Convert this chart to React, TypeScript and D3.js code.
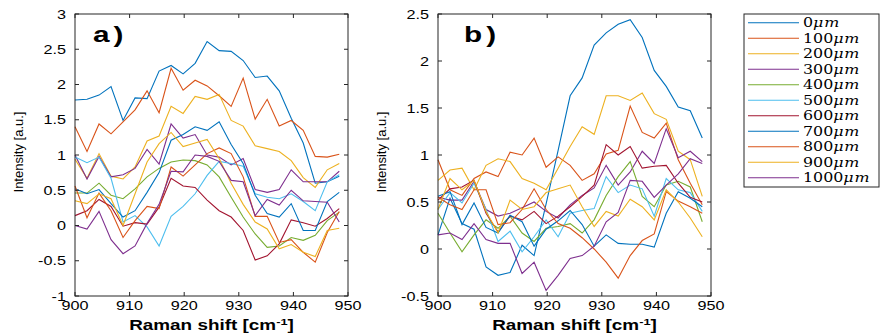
import React, { FC } from 'react';
import * as d3 from 'd3';

// Raman shift of each sample point [cm^-1]
const SHIFT = [900, 902.2, 904.4, 906.6, 908.8, 911, 913.2, 915.4, 917.6, 919.8, 922, 924.2,
  926.4, 928.6, 930.8, 933, 935.2, 937.4, 939.6, 941.8, 944, 946.2, 948.4];

const DEPTHS = ['0', '100', '200', '300', '400', '500', '600', '700', '800', '900', '1000'];
const COLORS = ['#0072BD', '#D95319', '#EDB120', '#7E2F8E', '#77AC30', '#4DBEEE', '#A2142F'];

// panel a)
const A_0 = [1.78, 1.79, 1.85, 1.97, 1.49, 1.81, 1.80, 2.19, 2.27, 2.15, 2.30, 2.61, 2.48, 2.47, 2.34, 2.10, 2.12, 1.91, 1.52, 1.17, 0.60, 0.62, 0.70];
const A_100 = [1.40, 1.05, 1.44, 1.30, 1.47, 1.64, 1.91, 1.60, 2.23, 1.92, 2.06, 1.98, 1.84, 1.69, 2.09, 1.51, 1.79, 1.41, 1.49, 1.35, 0.98, 0.97, 1.01];
const A_200 = [0.94, 0.67, 1.02, 0.70, 0.66, 0.83, 1.20, 1.27, 1.69, 1.59, 1.83, 1.79, 1.86, 1.49, 1.41, 1.13, 1.09, 1.05, 0.92, 0.68, 0.54, 0.79, 0.88];
const A_300 = [1.00, 0.66, 0.98, 0.69, 0.72, 0.81, 1.08, 0.87, 1.44, 1.24, 1.29, 1.00, 0.97, 0.86, 0.95, 0.51, 0.47, 0.51, 0.79, 0.62, 0.62, 0.62, 0.77];
const A_400 = [0.46, 0.46, 0.60, 0.43, 0.38, 0.52, 0.69, 0.81, 0.90, 0.93, 0.92, 0.86, 0.69, 0.40, 0.12, -0.12, -0.31, -0.29, -0.17, -0.21, -0.14, 0.07, 0.19];
const A_500 = [0.97, 0.89, 0.97, 0.67, 0.05, 0.14, -0.02, -0.29, 0.13, 0.27, 0.45, 0.71, 0.91, 0.88, 0.84, 0.45, 0.40, 0.38, 0.45, 0.34, 0.21, 0.62, 0.72];
const A_600 = [0.14, 0.21, 0.37, 0.27, -0.01, 0.04, 0.02, 0.26, 0.67, 0.56, 0.54, 0.36, 0.21, 0.12, -0.07, -0.49, -0.43, -0.26, 0.08, 0.04, -0.01, 0.10, 0.24];
const A_700 = [0.52, 0.45, 0.51, 0.31, 0.12, 0.21, 0.47, 0.75, 1.21, 1.29, 1.40, 1.35, 1.47, 1.15, 0.88, 0.43, 0.17, 0.12, 0.31, -0.07, -0.07, 0.34, 0.47];
const A_800 = [0.56, 0.11, 0.46, 0.21, -0.17, 0.07, 0.27, 0.24, 0.83, 0.70, 0.86, 1.02, 1.10, 1.02, 0.69, 0.13, 0.13, -0.24, -0.20, -0.38, -0.52, -0.10, 0.20];
const A_900 = [0.35, 0.31, 0.45, 0.38, 0.00, 0.45, 0.90, 1.16, 1.32, 1.12, 1.17, 1.22, 0.95, 0.60, 0.30, 0.05, -0.05, -0.33, -0.27, -0.38, -0.44, -0.07, -0.04];
const A_1000 = [0.00, -0.05, 0.20, -0.20, -0.40, -0.29, 0.03, 0.30, 0.77, 0.76, 1.00, 0.98, 0.91, 0.64, 0.62, 0.14, 0.37, 0.29, 0.50, 0.35, 0.34, 0.33, 0.05];

// panel b)
const B_0 = [0.15, 0.54, 0.27, 0.21, -0.19, -0.28, -0.25, 0.04, -0.07, 0.48, 1.05, 1.63, 1.82, 2.17, 2.30, 2.39, 2.44, 2.25, 1.90, 1.73, 1.51, 1.47, 1.18];
const B_100 = [0.95, 0.63, 0.57, 0.75, 0.82, 0.77, 1.03, 1.00, 1.18, 0.87, 0.98, 0.89, 0.73, 0.80, 1.01, 1.05, 1.52, 1.24, 1.18, 1.34, 0.95, 0.70, 0.47];
const B_200 = [0.73, 0.84, 0.86, 0.63, 0.89, 0.96, 0.93, 0.75, 0.70, 0.63, 0.86, 1.09, 1.30, 1.22, 1.63, 1.63, 1.58, 1.66, 1.44, 1.38, 1.04, 0.95, 0.56];
const B_300 = [0.55, 0.52, 0.52, 0.72, 0.42, 0.35, 0.38, 0.44, 0.50, 0.40, 0.33, 0.47, 0.57, 0.65, 0.89, 0.68, 0.82, 1.04, 0.91, 1.28, 0.97, 1.04, 0.93];
const B_400 = [0.38, 0.17, -0.03, 0.15, 0.31, 0.22, 0.35, 0.17, 0.08, 0.22, 0.24, 0.27, 0.17, 0.31, 0.57, 0.77, 0.93, 0.56, 0.45, 0.68, 0.72, 0.66, 0.29];
const B_500 = [0.42, 0.60, 0.49, 0.70, 0.42, 0.08, 0.19, -0.03, 0.13, 0.31, 0.13, 0.38, 0.41, 0.43, 0.77, 0.60, 0.68, 0.64, 0.35, 0.75, 0.63, 0.60, 0.40];
const B_600 = [0.52, 0.64, 0.66, 0.73, 0.38, 0.18, 0.35, 0.31, 0.40, 0.27, 0.35, 0.45, 0.56, 0.68, 1.11, 1.00, 1.09, 0.86, 0.88, 0.89, 0.70, 0.55, 0.50];
const B_700 = [0.56, 0.61, 0.26, 0.49, 0.23, 0.17, 0.36, 0.29, 0.03, 0.21, 0.30, 0.41, 0.26, 0.03, 0.15, 0.06, 0.05, 0.05, 0.02, 0.38, 0.61, 0.54, 0.45];
const B_800 = [0.55, 0.47, 0.42, 0.63, 0.63, 0.26, 0.28, 0.42, 0.64, 0.42, 0.27, 0.22, 0.12, 0.00, -0.14, -0.31, -0.07, 0.09, 0.16, 0.61, 0.51, 0.45, 0.38];
const B_900 = [0.42, 0.75, 0.63, 0.73, 0.40, 0.17, 0.52, 0.42, 0.45, 0.60, 0.64, 0.68, 0.45, 0.24, 0.40, 0.35, 0.53, 0.45, 0.31, 0.63, 0.50, 0.33, 0.13];
const B_1000 = [0.15, 0.17, 0.10, 0.27, 0.10, 0.06, 0.06, -0.26, -0.14, -0.44, -0.28, -0.10, -0.07, 0.03, 0.29, 0.39, 0.73, 0.72, 0.55, 0.68, 0.80, 0.96, 0.91];

const PANEL_A = [A_0, A_100, A_200, A_300, A_400, A_500, A_600, A_700, A_800, A_900, A_1000];
const PANEL_B = [B_0, B_100, B_200, B_300, B_400, B_500, B_600, B_700, B_800, B_900, B_1000];

const X_TICKS = [900, 910, 920, 930, 940, 950];
const Y_TICKS_A = [-1, -0.5, 0, 0.5, 1, 1.5, 2, 2.5, 3];
const Y_TICKS_B = [-0.5, 0, 0.5, 1, 1.5, 2, 2.5];

const SANS = "'Liberation Sans', Arial, Helvetica, sans-serif";
const SERIF = "'DejaVu Serif', 'Liberation Serif', serif";
const AXIS = '#262626';
const STRETCH = 1.35; // the reference text is drawn wide
const TOP = 14;
const BOTTOM = 296;

interface PanelProps {
  left: number;
  width: number;
  series: number[][];
  yDomain: [number, number];
  yTicks: number[];
  tag: string;
}

interface WideProps {
  x: number;
  y: number;
  anchor: string;
  size: number;
  bold?: boolean;
  spacing?: number;
  children: React.ReactNode;
}

const Wide: FC<WideProps> = ({ x, y, anchor, size, bold, spacing, children }) => (
  <text transform={`translate(${x},${y}) scale(${STRETCH},1)`} textAnchor={anchor} fontFamily={SANS}
    fontSize={size} fontWeight={bold ? 'bold' : 'normal'} letterSpacing={spacing || 0} fill="#000">{children}</text>
);

const Panel: FC<PanelProps> = ({ left, width, series, yDomain, yTicks, tag }) => {
  const x = d3.scaleLinear().domain([900, 950]).range([left, left + width]);
  const y = d3.scaleLinear().domain(yDomain).range([BOTTOM, TOP]);
  const line = d3.line<number>().x((_, i) => x(SHIFT[i])).y(d => y(d));
  const right = left + width;
  const tick = 4;

  return (
    <g>
      {series.map((s, i) => (
        <path key={DEPTHS[i]} d={line(s) || undefined} fill="none" stroke={COLORS[i % COLORS.length]} strokeWidth={1.1} />
      ))}
      <rect x={left} y={TOP} width={width} height={BOTTOM - TOP} fill="none" stroke={AXIS} strokeWidth={1} />
      {X_TICKS.map(t => (
        <g key={`x${t}`}>
          <line x1={x(t)} x2={x(t)} y1={BOTTOM} y2={BOTTOM - tick} stroke={AXIS} />
          <line x1={x(t)} x2={x(t)} y1={TOP} y2={TOP + tick} stroke={AXIS} />
          <Wide x={x(t)} y={310} anchor="middle" size={12}>{t}</Wide>
        </g>
      ))}
      {yTicks.map(t => (
        <g key={`y${t}`}>
          <line x1={left} x2={left + tick} y1={y(t)} y2={y(t)} stroke={AXIS} />
          <line x1={right} x2={right - tick} y1={y(t)} y2={y(t)} stroke={AXIS} />
          <Wide x={left - 9} y={y(t) + 4.5} anchor="end" size={12}>{t}</Wide>
        </g>
      ))}
      <Wide x={left + (tag === 'a)' ? 18 : 26)} y={41.5} anchor="start" size={22} bold spacing={3}>{tag}</Wide>
      <Wide x={left + width / 2} y={330} anchor="middle" size={14} bold>
        Raman shift [cm<tspan dy={-5} fontSize={9.5}>-1</tspan><tspan dy={5}>]</tspan>
      </Wide>
      <text transform={`translate(${left - 52},${(TOP + BOTTOM) / 2 - 3}) rotate(-90)`} textAnchor="middle"
        fontFamily={SANS} fontSize={13} fill="#000">Intensity [a.u.]</text>
    </g>
  );
};

const Legend: FC = () => {
  const lx = 744;
  const ly = 14;
  const step = 15.5;
  return (
    <g>
      <rect x={lx} y={ly} width={135} height={173} fill="#fff" stroke={AXIS} strokeWidth={1} />
      {DEPTHS.map((d, i) => {
        const cy = ly + 8.7 + i * step;
        return (
          <g key={d}>
            <line x1={lx + 4} x2={lx + 55} y1={cy} y2={cy} stroke={COLORS[i % COLORS.length]} strokeWidth={1.1} />
            <text transform={`translate(${lx + 59},${cy + 4.5}) scale(1.22,1)`} fontFamily={SERIF} fontSize={13} fill="#000">
              {d}<tspan fontStyle="italic" letterSpacing={0.6}>μm</tspan>
            </text>
          </g>
        );
      })}
    </g>
  );
};

const App: FC = () => (
  <svg width={884} height={334} style={{ position: 'absolute', left: 0, top: 0, background: '#fff' }}>
    <Panel left={75} width={273} series={PANEL_A} yDomain={[-1, 3]} yTicks={Y_TICKS_A} tag="a)" />
    <Panel left={438} width={273} series={PANEL_B} yDomain={[-0.5, 2.5]} yTicks={Y_TICKS_B} tag="b)" />
    <Legend />
  </svg>
);

export default App;
